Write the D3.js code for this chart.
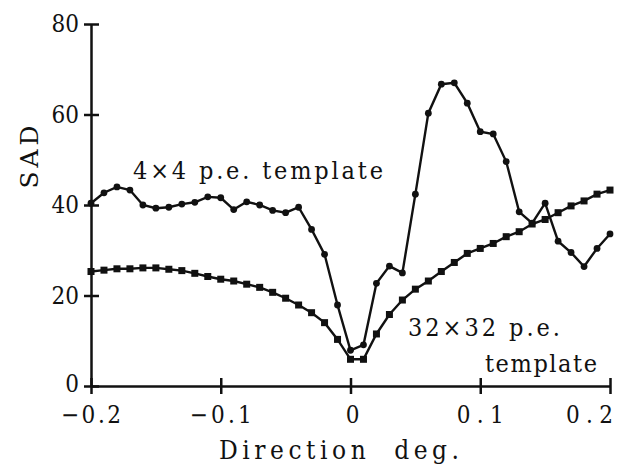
<!DOCTYPE html>
<html><head><meta charset="utf-8">
<script src="https://cdn.jsdelivr.net/npm/d3@7"></script>
<style>body{margin:0;background:#fff} text{white-space:pre}</style>
</head><body>
<svg id="c" width="642" height="468"></svg>
<script>
const directions = d3.range(41).map(i => +(-0.2 + i*0.01).toFixed(2));
const sad4x4 = [40.4,42.7,44.0,43.3,40.0,39.3,39.5,40.2,40.6,41.8,41.6,39.0,40.7,40.0,38.8,38.3,39.5,34.6,29.1,17.9,7.9,
  9.1,22.7,26.5,25.0,42.4,60.3,66.7,67.0,62.5,56.2,55.7,49.6,38.5,36.0,40.4,32.0,29.5,26.4,30.4,33.6];
const sad32x32 = [25.3,25.6,25.9,25.9,26.1,26.1,25.8,25.5,24.9,24.2,23.6,23.2,22.5,21.8,20.7,19.4,17.9,16.2,14.0,10.3,5.9,
  5.9,11.5,15.8,19.0,21.4,23.2,25.3,27.3,29.3,30.4,31.5,33.0,34.1,35.8,36.8,38.3,39.8,40.9,42.4,43.3];
const xTicks = [-0.2,-0.1,0,0.1,0.2];
const xTickLabels = ["\u22120.2","\u22120.1","0","0.1","0.2"];
const yTicks = [0,20,40,60,80];

const svg = d3.select("#c");
const x = d3.scaleLinear().domain([-0.2,0.2]).range([91,610]);
const y = d3.scaleLinear().domain([0,80]).range([386,24]);
const ink = "#111";
const serif = "DejaVu Serif";
const serifC = "DejaVu Serif Condensed";

// axes
const gy = svg.append("g").attr("transform","translate(91,0)")
  .call(d3.axisLeft(y).tickValues(yTicks).tickSize(7).tickSizeOuter(0).tickFormat(""));
gy.select(".domain").attr("stroke",ink).attr("stroke-width",2.5);
gy.selectAll(".tick line").attr("x1",-7).attr("x2",8).attr("stroke",ink).attr("stroke-width",2.5);
const gx = svg.append("g").attr("transform","translate(0,386)")
  .call(d3.axisBottom(x).tickValues(xTicks).tickSize(7).tickSizeOuter(0).tickFormat(""));
gx.select(".domain").attr("stroke",ink).attr("stroke-width",2.5);
gx.selectAll(".tick line").attr("y1",-8).attr("y2",8).attr("stroke",ink).attr("stroke-width",2.5);

// tick labels
svg.selectAll("text.yl").data(yTicks).enter().append("text")
  .attr("x",79).attr("y",d=>y(d)+(d===0?6:8)).attr("text-anchor","end")
  .attr("font-family",serifC).attr("font-size",24).attr("fill",ink)
  .text(d=>d);
const xl = [{w:60,a:"middle",dx:0},{w:62,a:"middle",dx:0},{w:13,a:"middle",dx:2},{w:47,a:"middle",dx:0},{w:47,a:"end",dx:3}];
svg.selectAll("text.xl").data(xTicks).enter().append("text")
  .attr("x",(d,i)=>x(d)+xl[i].dx).attr("y",423).attr("text-anchor",(d,i)=>xl[i].a)
  .attr("font-family",serifC).attr("font-size",24).attr("fill",ink)
  .attr("textLength",(d,i)=>xl[i].w).attr("lengthAdjust","spacing")
  .text((d,i)=>xTickLabels[i]);

// axis titles
svg.append("text").attr("x",339).attr("y",459).attr("text-anchor","middle")
  .attr("font-family",serifC).attr("font-size",26).attr("fill",ink)
  .attr("textLength",240).attr("lengthAdjust","spacing").text("Direction  deg.");
svg.append("text").attr("transform","translate(38,155) rotate(-90)").attr("text-anchor","middle")
  .attr("font-family",serif).attr("font-size",25).attr("fill",ink)
  .attr("letter-spacing",4).text("SAD");

// lines
const line = d3.line().x((d,i)=>x(directions[i])).y(d=>y(d));
svg.append("path").datum(sad32x32).attr("d",line).attr("fill","none").attr("stroke",ink).attr("stroke-width",2.4);
svg.append("path").datum(sad4x4).attr("d",line).attr("fill","none").attr("stroke",ink).attr("stroke-width",2.4);
svg.selectAll("rect.m").data(sad32x32).enter().append("rect")
  .attr("x",(d,i)=>x(directions[i])-3.5).attr("y",d=>y(d)-3.5).attr("width",7).attr("height",7).attr("fill",ink);
svg.selectAll("circle.m").data(sad4x4).enter().append("circle")
  .attr("cx",(d,i)=>x(directions[i])).attr("cy",d=>y(d)).attr("r",3.4).attr("fill",ink);

// labels
const lab = (t,xx,yy,w) => svg.append("text").attr("x",xx).attr("y",yy)
  .attr("font-family",serifC).attr("font-size",25).attr("fill",ink)
  .attr("textLength",w).attr("lengthAdjust","spacing").text(t);
lab("4×4 p.e. template",133,179,250);
lab("32×32 p.e.",408,336,152);
lab("template",485,372,112);
</script>
</body></html>
